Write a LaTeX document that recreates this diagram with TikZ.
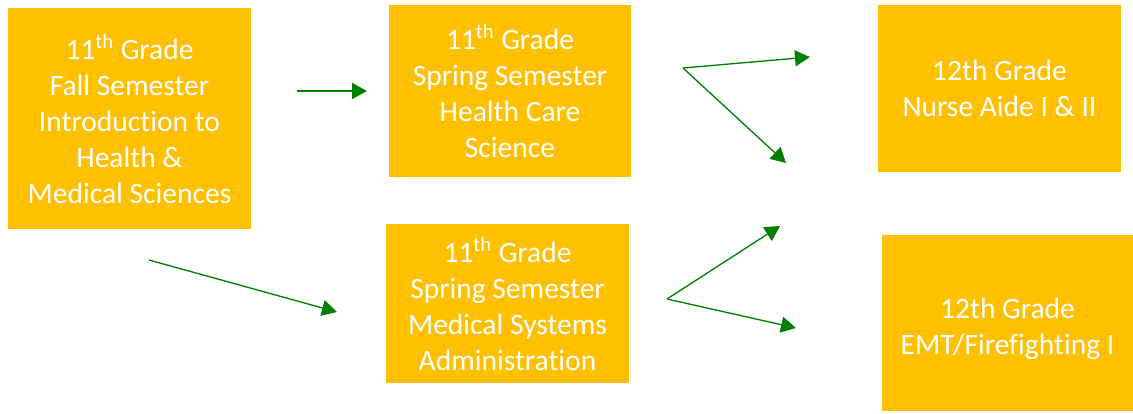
\documentclass[tikz,border=0pt]{standalone}
\usepackage{fontspec}
\setmainfont[RawFeature={-liga,-clig,-calt,-dlig}]{Carlito}
\usetikzlibrary{arrows.meta}
\definecolor{boxgold}{HTML}{FFC000}
\definecolor{arrowgreen}{HTML}{008000}
\begin{document}
\begin{tikzpicture}[x=0.02cm, y=-0.02cm,
  course/.style={fill=boxgold, text=white, align=center, inner sep=0pt,
    font=\fontsize{16.8}{20.5}\selectfont},
  flow/.style={draw=arrowgreen, line width=0.75pt,
    -{Triangle[length=0.3cm, width=0.32cm]}}]
\useasboundingbox (0,0) rectangle (1133,413);
% course boxes
\node[course, minimum width=4.86cm, minimum height=4.44cm] (fall) at (129.5,118.5)
  {11\textsuperscript{th} Grade\\Fall Semester\\Introduction to\\Health \&\\Medical Sciences};
\node[course, minimum width=4.84cm, minimum height=3.44cm] (hcs) at (510,91)
  {11\textsuperscript{th} Grade\\Spring Semester\\Health Care\\Science};
\node[course, minimum width=4.86cm, minimum height=3.18cm] (msa) at (507.5,303.5)
  {11\textsuperscript{th} Grade\\Spring Semester\\Medical Systems\\Administration};
\node[course, minimum width=4.86cm, minimum height=3.34cm] (nurse) at (999.5,88.5)
  {12th Grade\\Nurse Aide I \& II};
\node[course, minimum width=5.02cm, minimum height=3.52cm] (emt) at (1007.5,323)
  {\rule{0pt}{18pt}12th Grade\\EMT/Firefighting I};
% arrow end points
\coordinate (a1s) at (297,91);   \coordinate (a1e) at (367,91);
\coordinate (a2s) at (149,260);  \coordinate (a2e) at (337,312);
\coordinate (a3s) at (683,68);   \coordinate (a3e) at (810,57);
                                 \coordinate (a4e) at (786,163);
\coordinate (a5s) at (667,299);  \coordinate (a5e) at (780,226);
                                 \coordinate (a6e) at (796,328);
\draw[flow] (a1s) -- (a1e);
\draw[flow] (a2s) -- (a2e);
\draw[flow] (a3s) -- (a3e);
\draw[flow] (a3s) -- (a4e);
\draw[flow] (a5s) -- (a5e);
\draw[flow] (a5s) -- (a6e);
\end{tikzpicture}
\end{document}
